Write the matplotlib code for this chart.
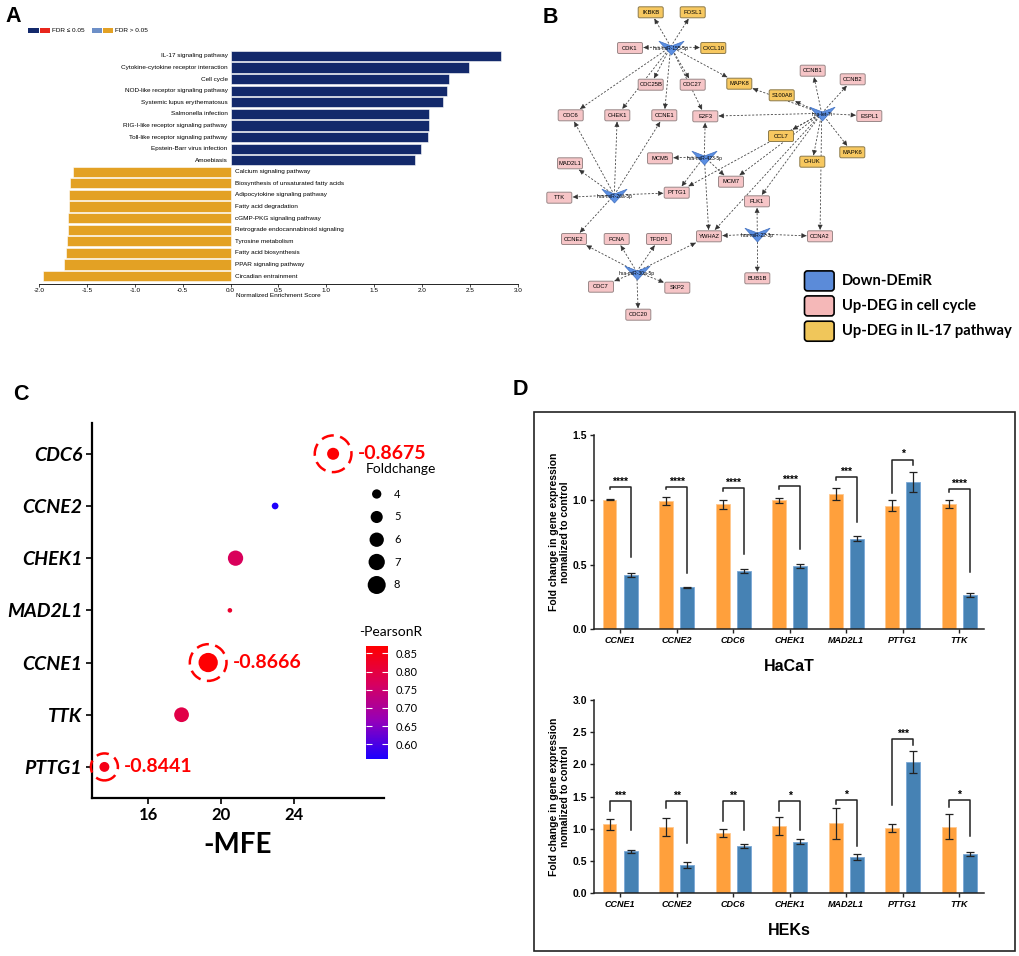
import numpy as np
import matplotlib
matplotlib.use("Agg")
import matplotlib.pyplot as plt
from matplotlib.path import Path
from matplotlib.colors import LinearSegmentedColormap, Normalize
from matplotlib.patches import FancyBboxPatch, Rectangle

# ---------------- datos ----------------
# A: GSEA
up_paths = ["IL-17 signaling pathway", "Cytokine-cytokine receptor interaction", "Cell cycle",
            "NOD-like receptor signaling pathway", "Systemic lupus erythematosus", "Salmonella infection",
            "RIG-I-like receptor signaling pathway", "Toll-like receptor signaling pathway",
            "Epstein-Barr virus infection", "Amoebiasis"]
up_nes = [2.82, 2.49, 2.28, 2.26, 2.22, 2.07, 2.07, 2.06, 1.99, 1.93]
down_paths = ["Calcium signaling pathway", "Biosynthesis of unsaturated fatty acids",
              "Adipocytokine signaling pathway", "Fatty acid degradation", "cGMP-PKG signaling pathway",
              "Retrograde endocannabinoid signaling", "Tyrosine metabolism", "Fatty acid biosynthesis",
              "PPAR signaling pathway", "Circadian entrainment"]
down_nes = [-1.65, -1.68, -1.69, -1.69, -1.70, -1.70, -1.71, -1.72, -1.74, -1.96]

# B: red miRNA-gen
hubs = ["hsa-miR-155-5p", "hsa-let-7i", "hsa-miR-423-5p", "hsa-miR-26a-5p", "hsa-miR-22-3p", "hsa-miR-30a-5p"]
il17_genes = ["IKBKB", "FOSL1", "CXCL10", "MAPK8", "S100A8", "CCL7", "MAPK6", "CHUK"]
edges = {
    "hsa-miR-155-5p": ["IKBKB", "FOSL1", "CDK1", "CXCL10", "CDC25B", "CHEK1", "CCNE1", "CDC27", "E2F3", "MAPK8", "CDC6"],
    "hsa-let-7i": ["CCNB1", "CCNB2", "ESPL1", "MAPK6", "CHUK", "CCNA2", "E2F3", "S100A8", "MAPK8", "CCL7",
                   "PTTG1", "MCM7", "PLK1", "YWHAZ"],
    "hsa-miR-423-5p": ["MCM5", "E2F3", "PTTG1", "MCM7", "YWHAZ"],
    "hsa-miR-26a-5p": ["CDC6", "CHEK1", "CCNE1", "MAD2L1", "TTK", "PTTG1", "CCNE2"],
    "hsa-miR-22-3p": ["YWHAZ", "CCNA2", "PLK1", "BUB1B"],
    "hsa-miR-30a-5p": ["CCNE2", "PCNA", "TFDP1", "YWHAZ", "CDC7", "SKP2", "CDC20"],
}

# C: dot plot
c_genes = ["CDC6", "CCNE2", "CHEK1", "MAD2L1", "CCNE1", "TTK", "PTTG1"]
c_mfe = [26.14, 22.96, 20.79, 20.48, 19.29, 17.83, 13.60]
c_fold = [4.97, 3.3, 6.48, 2.9, 8.8, 6.2, 4.2]
c_pearson = [0.8675, 0.565, 0.77, 0.82, 0.8666, 0.79, 0.8441]
fold_legend = [4, 5, 6, 7, 8]

# D: qPCR
d_genes = ["CCNE1", "CCNE2", "CDC6", "CHEK1", "MAD2L1", "PTTG1", "TTK"]
hacat_ctrl = [1.00, 0.99, 0.965, 0.996, 1.045, 0.955, 0.965]
hacat_ctrl_err = [0.005, 0.03, 0.037, 0.02, 0.044, 0.04, 0.032]
hacat_trt = [0.42, 0.325, 0.45, 0.49, 0.70, 1.135, 0.265]
hacat_trt_err = [0.018, 0.005, 0.015, 0.014, 0.017, 0.076, 0.014]
hacat_stars = ["****", "****", "****", "****", "***", "*", "****"]
hacat_brk = [1.10, 1.10, 1.09, 1.11, 1.176, 1.31, 1.083]
hacat_left = [1.08, 1.08, 1.068, 1.085, 1.155, 1.05, 1.06]
hacat_right = [0.56, 0.437, 0.58, 0.62, 0.83, 1.27, 0.44]

hek_ctrl = [1.07, 1.025, 0.93, 1.045, 1.087, 1.014, 1.035]
hek_ctrl_err = [0.08, 0.137, 0.062, 0.145, 0.243, 0.057, 0.19]
hek_trt = [0.652, 0.44, 0.735, 0.80, 0.56, 2.04, 0.615]
hek_trt_err = [0.02, 0.05, 0.034, 0.04, 0.044, 0.176, 0.03]
hek_stars = ["***", "**", "**", "*", "*", "***", "*"]
hek_brk = [1.433, 1.433, 1.433, 1.433, 1.449, 2.39, 1.449]
hek_left = [1.278, 1.33, 1.127, 1.278, 1.38, 1.37, 1.345]
hek_right = [0.99, 0.776, 0.99, 0.99, 0.735, 2.30, 0.89]

# posiciones de nodos de la red (pixeles)
layout = {
    "IKBKB": (650.7, 12.3), "FOSL1": (692.7, 12.3), "CDK1": (630, 48), "CXCL10": (713.3, 48),
    "CCNB1": (812.7, 70.7), "CCNB2": (852.7, 79.3), "CDC25B": (650.7, 84.7), "CDC27": (692.7, 84.7),
    "MAPK8": (739.3, 83.7), "S100A8": (781.7, 95.3), "CDC6": (570.7, 115.3), "CHEK1": (617.3, 115.3),
    "CCNE1": (664.3, 115.3), "E2F3": (705.3, 116.3), "ESPL1": (869.3, 116), "CCL7": (781, 136),
    "MAPK6": (852.3, 152.3), "CHUK": (812.3, 161.7), "MAD2L1": (570, 163.3), "MCM5": (660, 158.3),
    "MCM7": (731, 181.7), "PTTG1": (676.7, 192.7), "TTK": (559.3, 197.7), "PLK1": (757, 201.3),
    "CCNE2": (574, 239), "PCNA": (616.7, 239), "TFDP1": (659, 239), "YWHAZ": (709, 236.3),
    "CCNA2": (820, 236.3), "BUB1B": (757.3, 278.3), "CDC7": (601, 286.7), "SKP2": (677.3, 287.7),
    "CDC20": (638.3, 314.7),
    "hsa-miR-155-5p": (670.7, 46.7), "hsa-let-7i": (821.7, 113.3), "hsa-miR-423-5p": (704.3, 156.7),
    "hsa-miR-26a-5p": (614.3, 195), "hsa-miR-22-3p": (757.3, 234), "hsa-miR-30a-5p": (636.7, 271.7),
}

W, H = 1020, 956
fig = plt.figure(figsize=(W / 100, H / 100), dpi=100)


def fax(l, t, r, b):
    return fig.add_axes([l / W, 1 - b / H, (r - l) / W, (b - t) / H])


NAVY = "#13296b"
GOLD = "#e3a124"

# ---------------- A ----------------
axA = fax(39, 49, 518, 284)
names = up_paths + down_paths
nes = up_nes + down_nes
ypos = np.arange(len(names))
cols = [NAVY] * len(up_nes) + [GOLD] * len(down_nes)
axA.barh(ypos, nes, height=0.88, color=cols, edgecolor="white", linewidth=0.4)
for yi, nm, v in zip(ypos, names, nes):
    if v > 0:
        axA.text(-0.03, yi, nm, ha="right", va="center", fontsize=4.6, family="Liberation Sans")
    else:
        axA.text(0.045, yi, nm, ha="left", va="center", fontsize=4.6, family="Liberation Sans")
axA.set_xlim(-2, 3)
axA.set_ylim(19.69, -0.6)
axA.set_yticks([])
for s in ["left", "top", "right"]:
    axA.spines[s].set_visible(False)
axA.spines["bottom"].set_linewidth(0.6)
xt = np.arange(-2, 3.01, 0.5)
axA.set_xticks(xt, [f"{t:.1f}" for t in xt], fontsize=4.6, family="Liberation Sans")
axA.tick_params(axis="x", length=2, width=0.5, pad=1)
axA.set_xlabel("Normalized Enrichment Score", fontsize=4.6, family="Liberation Sans", labelpad=0)

# ---------------- C ----------------
axC = fax(92, 423, 384, 797.7)
cmap = LinearSegmentedColormap.from_list("br", ["#1a00ff", "#9300bb", "#d8005e", "#ff0000"])
norm = Normalize(0.559, 0.870)
cy = np.arange(len(c_genes), 0, -1)


def fold_size(fc):
    d = np.sqrt(np.maximum(-151 + 59.4 * np.asarray(fc, float), 4))
    return (d * 0.72) ** 2


sc = axC.scatter(c_mfe, cy, s=fold_size(c_fold), c=c_pearson, cmap=cmap, norm=norm,
                 linewidths=0, zorder=3, clip_on=False)
ring_d = {"CDC6": 36.7, "CCNE1": 36.7, "PTTG1": 27}
for g, x, y, r in zip(c_genes, c_mfe, cy, c_pearson):
    if g in ring_d:
        d = ring_d[g]
        axC.scatter([x], [y], s=(d * 0.72) ** 2, facecolors="none", edgecolors="#ff0000",
                    linewidths=1.8, linestyle=(0, (5, 2.6)), zorder=4, clip_on=False)
        axC.annotate(f"-{r:.4f}", (x, y), xytext=((d / 2 + 6) * 0.72, 0), textcoords="offset points",
                     ha="left", va="center", color="#ff0000", fontsize=14, fontweight="bold",
                     family="Lato")
axC.set_xlim(12.92, 28.93)
axC.set_ylim(0.41, 7.59)
axC.set_yticks(cy, c_genes, fontsize=14, fontweight="bold", fontstyle="italic", family="Lato")
axC.set_xticks([16, 20, 24], ["16", "20", "24"], fontsize=12, fontweight="bold", family="Lato")
axC.tick_params(length=4, width=1.2, pad=3)
for s in ["top", "right"]:
    axC.spines[s].set_visible(False)
for s in ["left", "bottom"]:
    axC.spines[s].set_linewidth(1.6)
axC.set_xlabel("-MFE", fontsize=20, fontweight="bold", family="Lato", labelpad=6)

cax = fax(366, 646, 387.7, 759.3)
cb = fig.colorbar(sc, cax=cax)
cb.outline.set_visible(False)
cb.set_ticks([0.60, 0.65, 0.70, 0.75, 0.80, 0.85])
cb.set_ticklabels(["0.60", "0.65", "0.70", "0.75", "0.80", "0.85"])
cax.tick_params(axis="y", direction="in", length=4, width=0.8, color="white", left=True, right=True,
                labelsize=8, pad=6)
for lb in cax.get_yticklabels():
    lb.set_family("Lato")

# ---------------- D ----------------
ORANGE = "#ffa03c"
BLUE = "#4682b4"


def qpcr(ax, ctrl, cerr, trt, terr, stars, brk, left, right, ymax, title):
    x = np.arange(len(d_genes))
    off, bw = 0.186, 0.247
    ax.bar(x - off, ctrl, bw, color=ORANGE, edgecolor="#ffc98f", linewidth=0.6, zorder=2)
    ax.bar(x + off, trt, bw, color=BLUE, edgecolor="#7aa8d6", linewidth=0.6, zorder=2)
    ax.errorbar(x - off, ctrl, yerr=cerr, fmt="none", ecolor="#222", elinewidth=0.9, capsize=2.8,
                capthick=0.9, zorder=3)
    ax.errorbar(x + off, trt, yerr=terr, fmt="none", ecolor="#222", elinewidth=0.9, capsize=2.8,
                capthick=0.9, zorder=3)
    for i in range(len(d_genes)):
        ax.plot([i - off, i - off, i + off, i + off], [left[i], brk[i], brk[i], right[i]],
                color="#222", lw=1.1, zorder=3)
        ax.annotate(stars[i], (i, brk[i]), xytext=(0, 0.3), textcoords="offset points", ha="center",
                    va="bottom", fontsize=7.5, fontweight="bold", family="Liberation Sans")
    ax.set_xlim(-0.455, 6.437)
    ax.set_ylim(0, ymax)
    yt = np.arange(0, ymax + 0.01, 0.5)
    ax.set_yticks(yt, [f"{t:.1f}" for t in yt], fontsize=7.5, fontweight="bold", family="Liberation Sans")
    ax.set_xticks(x, d_genes, fontsize=6.5, fontweight="bold", fontstyle="italic", family="Liberation Sans")
    ax.tick_params(length=3, width=1, pad=2, color="#222")
    for s in ["top", "right"]:
        ax.spines[s].set_visible(False)
    for s in ["left", "bottom"]:
        ax.spines[s].set_linewidth(1.1)
        ax.spines[s].set_color("#222")
    ax.set_ylabel("Fold change in gene expression\nnomalized to control", fontsize=7.5,
                  fontweight="bold", family="Liberation Sans", labelpad=2, linespacing=1.1)
    ax.set_xlabel(title, fontsize=11.5, fontweight="bold", family="Liberation Sans", labelpad=10)


axD1 = fax(594.3, 435, 984, 629.3)
qpcr(axD1, hacat_ctrl, hacat_ctrl_err, hacat_trt, hacat_trt_err, hacat_stars,
     hacat_brk, hacat_left, hacat_right, 1.5, "HaCaT")
axD2 = fax(594.3, 700, 984, 893.3)
qpcr(axD2, hek_ctrl, hek_ctrl_err, hek_trt, hek_trt_err, hek_stars,
     hek_brk, hek_left, hek_right, 3.0, "HEKs")

# ---------------- capa superior: B, leyendas, letras ----------------
ov = fig.add_axes([0, 0, 1, 1])
ov.set_xlim(0, W)
ov.set_ylim(H, 0)
ov.axis("off")

# letras de panel
for lt, x, y in [("A", 5, 21.7), ("B", 543, 22.7), ("C", 13, 400), ("D", 513, 395)]:
    ov.text(x, y, lt, fontsize=15.5, fontweight="bold", family="Liberation Sans", va="baseline", ha="left")

# leyenda de A
for x0, x1, c in [(28.3, 39.3, NAVY), (40, 50, "#e8261c"), (91.7, 101.7, "#6d8fc7"), (102.7, 113.3, GOLD)]:
    ov.add_patch(Rectangle((x0, 28.3), x1 - x0, 5, color=c, lw=0))
ov.text(51.7, 30.8, "FDR \u2264 0.05", fontsize=4.6, va="center", family="Liberation Sans")
ov.text(115, 30.8, "FDR > 0.05", fontsize=4.6, va="center", family="Liberation Sans")

# red B
hw, hh = 12.5, 5.5
for hub, targets in edges.items():
    hx, hy = layout[hub]
    for t in targets:
        tx, ty = layout[t]
        dx, dy = tx - hx, ty - hy
        k = min((hw + 1) / abs(dx) if dx else 1e9, (hh + 1) / abs(dy) if dy else 1e9)
        ex, ey = tx - dx * k, ty - dy * k
        L = np.hypot(dx, dy)
        ux, uy = dx / L, dy / L
        ov.plot([hx, ex], [hy, ey], color="#444", lw=0.6, ls=(0, (2.5, 2)), zorder=1)
        ov.annotate("", xy=(ex, ey), xytext=(ex - ux * 3, ey - uy * 3),
                    arrowprops=dict(arrowstyle="-|>,head_length=0.3,head_width=0.15", color="#333",
                                    lw=0.4, shrinkA=0, shrinkB=0), zorder=2)

for name, (x, y) in layout.items():
    if name in hubs:
        continue
    fc = "#f7c860" if name in il17_genes else "#f6c5c7"
    ec = "#8c7a4a" if name in il17_genes else "#9a8888"
    ov.add_patch(FancyBboxPatch((x - hw + 1, y - hh + 1), 2 * hw - 2, 2 * hh - 2,
                                boxstyle="round,pad=1,rounding_size=1.5", fc=fc, ec=ec, lw=0.7, zorder=3))
    ov.text(x, y, name, ha="center", va="center", fontsize=4.2, family="Liberation Sans", zorder=4)

chevron = Path([(-1, 0.5), (0, 0.12), (1, 0.5), (0, -0.6), (-1, 0.5)],
               [Path.MOVETO, Path.LINETO, Path.LINETO, Path.LINETO, Path.CLOSEPOLY])
for h in hubs:
    x, y = layout[h]
    ov.plot([x], [y], marker=chevron, ms=18, mfc="#5b8fe3", mec="#3f6fc0", mew=0.5, zorder=5)
    ov.text(x, y + 1.5, h, ha="center", va="center", fontsize=3.6, family="Liberation Sans", zorder=6)

for (y0, c, lab) in [(270.7, "#5b8bd9", "Down-DEmiR"), (295.7, "#f5b8b8", "Up-DEG in cell cycle"),
                     (321, "#f0c65a", "Up-DEG in IL-17 pathway")]:
    ov.add_patch(FancyBboxPatch((805.5, y0 + 1.2), 27.6, 18, boxstyle="round,pad=1,rounding_size=3",
                                fc=c, ec="black", lw=1.2, zorder=3))
    ov.text(841.7, y0 + 10.3, lab, ha="left", va="center", fontsize=10.6, fontweight="bold", family="Lato")

# leyenda de tamano en C
ov.text(366, 469, "Foldchange", fontsize=10, va="center", family="Lato")
leg_y = [494, 517, 539.7, 562, 585]
ov.scatter([376.7] * len(fold_legend), leg_y, s=fold_size(fold_legend), color="black", lw=0)
for v, y in zip(fold_legend, leg_y):
    ov.text(394, y, str(v), fontsize=8, va="center", family="Lato")
ov.text(359, 632, "-PearsonR", fontsize=10, va="center", family="Lato")

# marco de D
ov.add_patch(Rectangle((534, 411.7), 1015 - 534, 951 - 411.7, fill=False, ec="#222", lw=1.2))

plt.savefig("out.png", dpi=100)
